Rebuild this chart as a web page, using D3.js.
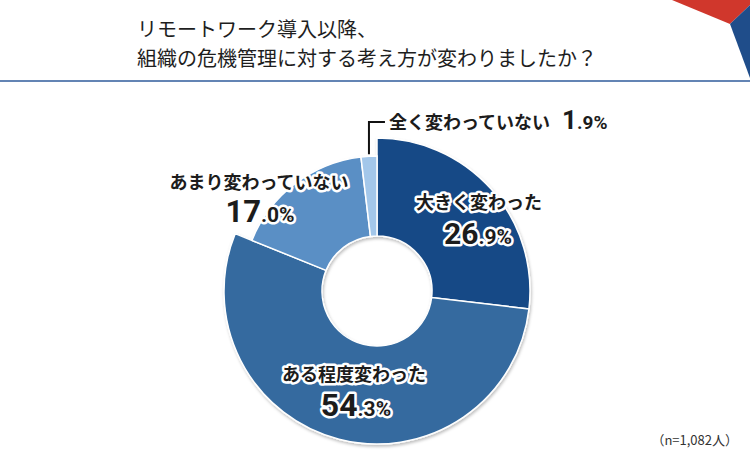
<!DOCTYPE html>
<html lang="ja">
<head>
<meta charset="UTF-8"/>
<title>リモートワーク導入以降の危機管理</title>
<script src="https://d3js.org/d3.v7.min.js"></script>
<style>
  body { margin: 0; background: #fff; }
  text { font-family: "Noto Sans CJK JP", "Noto Sans", sans-serif; }
  .title { font-size: 20px; fill: #1e1e1e; }
  .lbl { font-weight: 700; fill: #1c1c1c; stroke: #fff; stroke-width: 5px;
         stroke-linejoin: round; paint-order: stroke; }
  .num { font-family: Roboto, "Liberation Sans", sans-serif; }
  .note { font-size: 13px; fill: #333; }
</style>
</head>
<body>
<div id="chart"></div>
<script>
// data
var categories = ["大きく変わった", "ある程度変わった", "あまり変わっていない", "全く変わっていない"];
var values     = [26.9, 54.3, 17.0, 1.9];
var changed    = [true, true, false, false];   // answers that report a change
var colors     = ["#174a86", "#356b9f", "#5a8fc5", "#a3c7ea"];
var titleLines = ["リモートワーク導入以降、", "組織の危機管理に対する考え方が変わりましたか？"];
var note = "（n=1,082人）";

var w = 750, h = 466;
var cx = 377, cy = 291;
var inner = 55;

var svg = d3.select("#chart").append("svg")
  .attr("width", w).attr("height", h);

var defs = svg.append("defs");
var f = defs.append("filter").attr("id", "shadow")
  .attr("x", "-20%").attr("y", "-20%").attr("width", "140%").attr("height", "140%");
f.append("feDropShadow").attr("dx", 1).attr("dy", 2).attr("stdDeviation", 1.5)
  .attr("flood-color", "#000").attr("flood-opacity", 0.25);

// corner decoration
svg.append("polygon").attr("points", "672,0 750,0 750,5 730,24").attr("fill", "#d0372c");
svg.append("polygon").attr("points", "730,24 750,5 750,78").attr("fill", "#1f4d8a");

// title
svg.selectAll(".title").data(titleLines).enter().append("text")
  .attr("class", "title")
  .attr("x", 137)
  .attr("y", function(d, i) { return 37 + i * 29; })
  .text(function(d) { return d; });

svg.append("line")
  .attr("x1", 0).attr("x2", w).attr("y1", 81).attr("y2", 81)
  .attr("stroke", "#2f5b9b").attr("stroke-width", 1.5);

// donut
var data = categories.map(function(c, i) {
  return { name: c, value: values[i], changed: changed[i], color: colors[i] };
});

var pie = d3.pie().sort(null).value(function(d) { return d.value; });
var outerScale = d3.scaleOrdinal().domain([true, false]).range([153, 135]);

var arc = d3.arc()
  .innerRadius(inner)
  .outerRadius(function(d) { return outerScale(d.data.changed); });

var g = svg.append("g").attr("transform", "translate(" + cx + "," + cy + ")");
var arcs = pie(data);

g.append("g").attr("filter", "url(#shadow)")
  .selectAll("path").data(arcs).enter().append("path")
  .attr("d", arc)
  .attr("fill", function(d) { return d.data.color; })
  .attr("stroke", "#fff")
  .attr("stroke-width", 1.5);

// label layout (relative to centre): name line, value line
var layout = [
  { x: 102, y: -82, nx: 101, ny: -47, big: 30, small: 21 },
  { x: -23, y: 90,  nx: -21, ny: 125, big: 32, small: 21 },
  { x: -118, y: -102, nx: -117, ny: -69, big: 31, small: 21 }
];

function splitNum(v) {
  var s = v.toFixed(1).split(".");
  return [s[0], "." + s[1] + "%"];
}

arcs.slice(0, 3).forEach(function(a, i) {
  var L = layout[i];
  g.append("text").attr("class", "lbl")
    .attr("x", L.x).attr("y", L.y)
    .attr("text-anchor", "middle")
    .style("font-size", "18px")
    .text(a.data.name);
  var parts = splitNum(a.data.value);
  var t = g.append("text").attr("class", "lbl num")
    .attr("x", L.nx).attr("y", L.ny)
    .attr("text-anchor", "middle");
  t.append("tspan").style("font-size", L.big + "px").text(parts[0]);
  t.append("tspan").style("font-size", L.small + "px").text(parts[1]);
});

// small slice: leader line and outside label
var last = arcs[3];
var mid = (last.startAngle + last.endAngle) / 2;
var rOut = outerScale(last.data.changed);
var px = Math.sin(mid) * rOut, py = -Math.cos(mid) * rOut;
var elbowY = -169;
g.append("polyline")
  .attr("points", [[px, py - 2], [px, elbowY], [px + 16, elbowY]].map(function(p) { return p.join(","); }).join(" "))
  .attr("fill", "none").attr("stroke", "#111").attr("stroke-width", 2);

var t4 = g.append("text").attr("class", "lbl")
  .attr("x", px + 20).attr("y", elbowY + 7);
t4.append("tspan").style("font-size", "18px").text(last.data.name);
var p4 = splitNum(last.data.value);
t4.append("tspan").attr("class", "num").attr("dx", 12).style("font-size", "26px").text(p4[0]);
t4.append("tspan").attr("class", "num").style("font-size", "19px").text(p4[1]);

svg.append("text").attr("class", "note")
  .attr("x", 738).attr("y", 445)
  .attr("text-anchor", "end")
  .text(note);
</script>
</body>
</html>
